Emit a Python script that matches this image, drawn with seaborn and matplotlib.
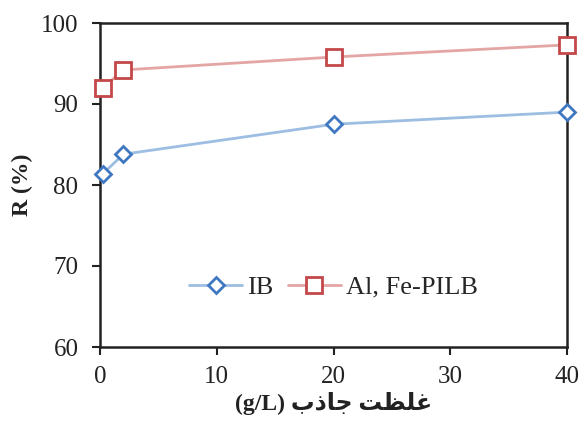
import matplotlib
matplotlib.use("Agg")
import matplotlib.pyplot as plt
import seaborn as sns
import pandas as pd

# Data
x_vals = [0.25, 2, 20, 40]
ib_vals = [81.4, 83.8, 87.5, 89.0]
pilb_vals = [92.0, 94.2, 95.8, 97.3]
series_names = ["IB", "Al, Fe-PILB"]
x_ticks = [0, 10, 20, 30, 40]
y_ticks = [60, 70, 80, 90, 100]
# Persian label "غلظت جاذب (g/L)" in visual order with shaped presentation forms
x_label = "(g/L) \uFE8F\uFEAB\uFE8E\uFE9F \uFE96\uFEC8\uFEE0\uFECF"
y_label = "R (%)"

sns.set_theme(style="white")
plt.rcParams["font.family"] = ["Liberation Serif", "DejaVu Sans"]

df = pd.DataFrame({
    "x": x_vals * 2,
    "R": ib_vals + pilb_vals,
    "series": [series_names[0]] * len(x_vals) + [series_names[1]] * len(x_vals),
})

fig = plt.figure(figsize=(5.82, 4.21), dpi=100)
ax = fig.add_axes([100 / 582, 1 - 347 / 421, 467 / 582, 324 / 421])

line_colors = {"IB": "#9dbde2", "Al, Fe-PILB": "#e4a5a5"}
edge_colors = {"IB": "#3f78c0", "Al, Fe-PILB": "#c4484a"}
markers = {"IB": "D", "Al, Fe-PILB": "s"}
msizes = {"IB": 8, "Al, Fe-PILB": 11}

for name in series_names:
    sub = df[df["series"] == name]
    sns.lineplot(data=sub, x="x", y="R", ax=ax, color=line_colors[name],
                 linewidth=2.0, marker=markers[name], markersize=msizes[name],
                 markerfacecolor="white", markeredgecolor=edge_colors[name],
                 markeredgewidth=2.0, label=name, clip_on=False, zorder=3)

ax.set_xlim(0, 40)
ax.set_ylim(60, 100)
ax.set_xticks(x_ticks)
ax.set_yticks(y_ticks)
ax.tick_params(axis="both", direction="out", length=5.5, width=1.5, labelsize=18,
               colors="#222222", bottom=True, left=True)
ax.tick_params(axis="y", pad=10)
ax.tick_params(axis="x", pad=8)
for s in ax.spines.values():
    s.set_color("#222222")
    s.set_linewidth(1.8)

ax.set_xlabel(x_label, fontsize=17, fontweight="bold", color="#222222", labelpad=3,
              family=["Liberation Serif", "DejaVu Sans"])
ax.set_ylabel(y_label, fontsize=17, fontweight="bold", color="#222222", labelpad=6)

leg = ax.legend(loc="center", bbox_to_anchor=(0.5, 0.185), ncol=2, frameon=False,
                fontsize=19, handlelength=2.0, handletextpad=0.2, columnspacing=0.55)

fig.savefig("out.png", dpi=100)
